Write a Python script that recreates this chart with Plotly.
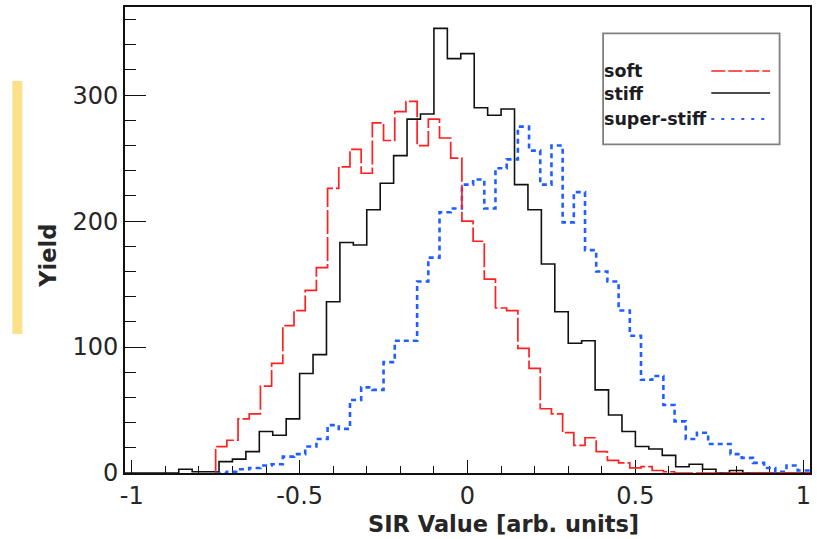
import plotly.graph_objects as go

# ---------------- data ----------------
# "stiff": 51 bins of width 0.04, first bin starts at -1.02
stiff_start = -1.02
stiff_width = 0.04
stiff_values = [0, 0, 0, 0, 3, 1, 1, 9, 11, 17,
                33, 30, 43, 79, 94, 136, 183, 181, 209, 230,
                252, 281, 285, 353, 329, 333, 290, 284, 289, 229,
                209, 166, 128, 103, 105, 66, 46, 33, 21, 19,
                14, 5, 7, 3, 0, 2, 0, 0, 0, 0,
                0]

# "soft" and "super-stiff": bins of width 1/30, first bin starts at -0.75
fine_start = -0.75
fine_width = 1.0 / 30.0
soft_values = [21, 26, 43, 47, 69, 87, 117, 129, 145, 163,
               226, 243, 257, 238, 278, 264, 287, 295, 260, 281,
               266, 250, 200, 184, 154, 131, 129, 99, 83, 51,
               47, 32, 22, 28, 17, 10, 8, 4, 5, 2,
               1, 0, 0, 0, 0, 0, 0, 0, 0, 0,
               0, 0, 0, 0]
superstiff_values = [0, 1, 3, 4, 6, 7, 13, 15, 21, 27,
                     38, 35, 58, 68, 66, 88, 105, 105, 152, 171,
                     207, 210, 229, 233, 210, 242, 249, 275, 256, 229,
                     260, 199, 223, 177, 160, 152, 129, 109, 74, 77,
                     54, 41, 27, 32, 23, 23, 15, 12, 8, 4,
                     1, 6, 2, 2]

series_names = ["soft", "stiff", "super-stiff"]

x_tick_vals = [-1, -0.5, 0, 0.5, 1]
x_tick_text = ["-1", "-0.5", "0", "0.5", "1"]
y_tick_vals = [0, 100, 200, 300]
y_tick_text = ["0", "100", "200", "300"]

x_title = "SIR Value [arb. units]"
y_title = "Yield"

# ---------------- styling ----------------
W, H = 817, 539
ML, MR, MT, MB = 125, 5, 7, 66
PW, PH = W - ML - MR, H - MT - MB

RED = "#ff2020"
BLUE = "#1f5eff"
BLACK = "#111111"
TXT = "#262626"
FONT = "DejaVu Sans"


def px(xp):
    return (xp - ML) / PW


def py(yp):
    return (H - MB - yp) / PH


def step_xy(start, width, values):
    xs = [start]
    ys = [0]
    for i, v in enumerate(values):
        xs.append(start + i * width)
        ys.append(v)
    xs.append(start + len(values) * width)
    ys.append(values[-1])
    return xs, ys


fig = go.Figure()

sx, sy = step_xy(stiff_start, stiff_width, stiff_values)
fig.add_trace(go.Scatter(x=sx, y=sy, mode="lines", line_shape="hv",
                         name=series_names[1],
                         line=dict(color=BLACK, width=1.6)))

bx, by = step_xy(fine_start, fine_width, superstiff_values)
fig.add_trace(go.Scatter(x=bx, y=by, mode="lines", line_shape="hv",
                         name=series_names[2],
                         line=dict(color=BLUE, width=2.6, dash="5px,4px")))

rx, ry = step_xy(fine_start, fine_width, soft_values)
fig.add_trace(go.Scatter(x=rx, y=ry, mode="lines", line_shape="hv",
                         name=series_names[0],
                         line=dict(color=RED, width=1.7, dash="24px,3px")))

axis_common = dict(
    showline=True, mirror=True, linecolor=BLACK, linewidth=1.6,
    showgrid=False, zeroline=False, ticks="inside", tickcolor=BLACK,
    tickwidth=1.3, tickfont=dict(family=FONT, size=24, color=TXT),
    layer="below traces",
)

fig.update_xaxes(range=[-1.02, 1.02], tickmode="array",
                 tickvals=x_tick_vals, ticktext=x_tick_text, ticklen=13,
                 minor=dict(ticks="inside", ticklen=7, tick0=0, dtick=0.1,
                            tickcolor=BLACK, tickwidth=1.3, showgrid=False),
                 **axis_common)
fig.update_yaxes(range=[0, 370], tickmode="array",
                 tickvals=y_tick_vals, ticktext=y_tick_text, ticklen=21,
                 minor=dict(ticks="inside", ticklen=11, tick0=0, dtick=20,
                            tickcolor=BLACK, tickwidth=1.3, showgrid=False),
                 **axis_common)

shapes = []
# yellow highlight bar on the left
shapes.append(dict(type="rect", xref="paper", yref="paper",
                   x0=px(12), x1=px(22), y0=py(334), y1=py(81),
                   fillcolor="#fde08a", line=dict(width=0), layer="below"))
# legend box
shapes.append(dict(type="rect", xref="paper", yref="paper",
                   x0=px(604.5), x1=px(781.5), y0=py(144.3), y1=py(33.3),
                   fillcolor="white", line=dict(color="#808080", width=1.8)))
legend_styles = [dict(color=RED, width=1.7, dash="14px,3px"),
                 dict(color=BLACK, width=1.6),
                 dict(color=BLUE, width=2.2, dash="3px,7px")]
legend_line_y = [71, 93, 119]
legend_text_y = [71, 94, 119]
for st, ly in zip(legend_styles, legend_line_y):
    shapes.append(dict(type="line", xref="paper", yref="paper",
                       x0=px(713), x1=px(772), y0=py(ly), y1=py(ly),
                       line=st))

annotations = []
for name, ty in zip(series_names, legend_text_y):
    annotations.append(dict(xref="paper", yref="paper", x=px(603), y=py(ty),
                            text="<b>%s</b>" % name, showarrow=False,
                            xanchor="left", yanchor="middle",
                            font=dict(family=FONT, size=17.5, color="#1c1c24")))
annotations.append(dict(xref="paper", yref="paper", x=px(504.5), y=py(524),
                        text="<b>%s</b>" % x_title, showarrow=False,
                        xanchor="center", yanchor="middle",
                        font=dict(family=FONT, size=22.5, color=TXT)))
annotations.append(dict(xref="paper", yref="paper", x=px(48), y=py(255.5),
                        text="<b>%s</b>" % y_title, showarrow=False,
                        textangle=-90, xanchor="center", yanchor="middle",
                        font=dict(family=FONT, size=22.5, color=TXT)))

fig.update_layout(
    width=W, height=H,
    margin=dict(l=ML, r=MR, t=MT, b=MB),
    paper_bgcolor="white", plot_bgcolor="white",
    showlegend=False,
    shapes=shapes, annotations=annotations,
)

fig.write_html("out.html")
